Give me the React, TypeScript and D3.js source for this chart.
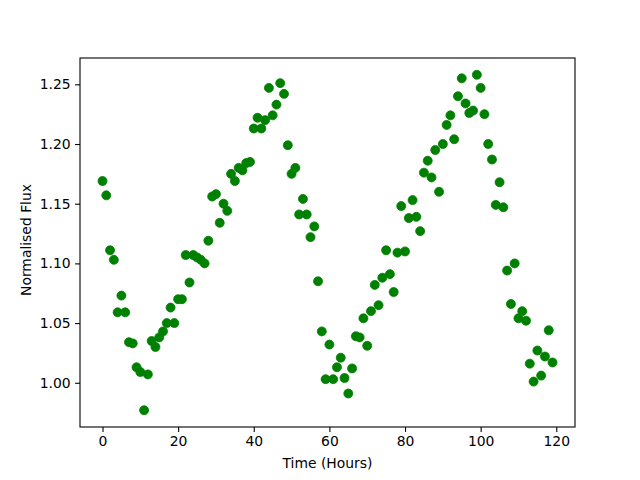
import React, { useEffect, useRef } from "react";
import * as d3 from "d3";

// time of each sample, hours
const hours = [
  0, 1, 2, 3, 4, 5, 6, 7, 8, 9, 10, 11, 12, 13, 14, 15, 16, 17, 18, 19,
  20, 21, 22, 23, 24, 25, 26, 27, 28, 29, 30, 31, 32, 33, 34, 35, 36, 37, 38, 39,
  40, 41, 42, 43, 44, 45, 46, 47, 48, 49, 50, 51, 52, 53, 54, 55, 56, 57, 58, 59,
  60, 61, 62, 63, 64, 65, 66, 67, 68, 69, 70, 71, 72, 73, 74, 75, 76, 77, 78, 79,
  80, 81, 82, 83, 84, 85, 86, 87, 88, 89, 90, 91, 92, 93, 94, 95, 96, 97, 98, 99,
  100, 101, 102, 103, 104, 105, 106, 107, 108, 109, 110, 111, 112, 113, 114, 115, 116, 117, 118, 119,
];

// normalised flux
const flux = [
  1.169, 1.157, 1.111, 1.103, 1.059, 1.073, 1.059, 1.034, 1.033, 1.013,
  1.009, 0.977, 1.007, 1.035, 1.030, 1.038, 1.043, 1.050, 1.063, 1.050,
  1.070, 1.070, 1.107, 1.084, 1.107, 1.105, 1.103, 1.100, 1.119, 1.156,
  1.158, 1.134, 1.150, 1.144, 1.175, 1.169, 1.180, 1.178, 1.184, 1.185,
  1.213, 1.222, 1.213, 1.220, 1.247, 1.224, 1.233, 1.251, 1.242, 1.199,
  1.175, 1.180, 1.141, 1.154, 1.141, 1.122, 1.131, 1.085, 1.043, 1.003,
  1.032, 1.003, 1.013, 1.021, 1.004, 0.991, 1.012, 1.039, 1.038, 1.054,
  1.031, 1.060, 1.082, 1.065, 1.088, 1.111, 1.091, 1.076, 1.109, 1.148,
  1.110, 1.138, 1.153, 1.139, 1.127, 1.176, 1.186, 1.172, 1.195, 1.160,
  1.200, 1.216, 1.224, 1.204, 1.240, 1.255, 1.234, 1.226, 1.228, 1.258,
  1.247, 1.225, 1.200, 1.187, 1.149, 1.168, 1.147, 1.094, 1.066, 1.100,
  1.054, 1.060, 1.052, 1.016, 1.001, 1.027, 1.006, 1.022, 1.044, 1.017,
];

const xTicks = [0, 20, 40, 60, 80, 100, 120];
const yTicks = [1.0, 1.05, 1.1, 1.15, 1.2, 1.25];

const W = 640;
const H = 480;
const margin = { left: 80, right: 65, top: 58, bottom: 53 };

export default function App() {
  const ref = useRef<SVGSVGElement | null>(null);

  useEffect(() => {
    const svg = d3.select(ref.current);
    svg.selectAll("*").remove();

    const iw = W - margin.left - margin.right;
    const ih = H - margin.top - margin.bottom;

    // matplotlib style 5% padding on both axes
    const xExt = d3.extent(hours) as [number, number];
    const yExt = d3.extent(flux) as [number, number];
    const xPad = (xExt[1] - xExt[0]) * 0.05;
    const yPad = (yExt[1] - yExt[0]) * 0.05;

    const x = d3.scaleLinear()
      .domain([xExt[0] - xPad, xExt[1] + xPad])
      .range([0, iw]);
    const y = d3.scaleLinear()
      .domain([yExt[0] - yPad, yExt[1] + yPad])
      .range([ih, 0]);

    const g = svg.append("g")
      .attr("transform", `translate(${margin.left},${margin.top})`);

    g.selectAll("circle")
      .data(hours)
      .enter()
      .append("circle")
      .attr("cx", (d) => x(d))
      .attr("cy", (d, i) => y(flux[i]))
      .attr("r", 4.5)
      .attr("fill", "#008000")
      .attr("stroke", "#008000")
      .attr("stroke-width", 0.8);

    const xAxis = d3.axisBottom(x)
      .tickValues(xTicks)
      .tickSize(4.9)
      .tickPadding(4.5)
      .tickFormat(d3.format("d"));
    const yAxis = d3.axisLeft(y)
      .tickValues(yTicks)
      .tickSize(4.9)
      .tickPadding(4.5)
      .tickFormat(d3.format(".2f"));

    const gx = g.append("g")
      .attr("transform", `translate(0,${ih})`)
      .call(xAxis);
    const gy = g.append("g").call(yAxis);

    [gx, gy].forEach((ax) => {
      ax.select(".domain").remove();
      ax.selectAll("line").attr("stroke", "#000").attr("stroke-width", 1.1);
      ax.selectAll("text")
        .attr("fill", "#000")
        .style("font-family", "DejaVu Sans")
        .style("font-size", "13.9px");
    });

    g.append("rect")
      .attr("width", iw)
      .attr("height", ih)
      .attr("fill", "none")
      .attr("stroke", "#000")
      .attr("stroke-width", 1.1);

    svg.append("text")
      .attr("x", margin.left + iw / 2)
      .attr("y", 468)
      .attr("text-anchor", "middle")
      .style("font-family", "DejaVu Sans")
      .style("font-size", "13.9px")
      .text("Time (Hours)");

    svg.append("text")
      .attr("transform", `translate(31,240) rotate(-90)`)
      .attr("text-anchor", "middle")
      .style("font-family", "DejaVu Sans")
      .style("font-size", "13.9px")
      .text("Normalised Flux");
  }, []);

  return (
    <svg
      ref={ref}
      width={W}
      height={H}
      style={{ position: "absolute", left: 0, top: 0, background: "#fff" }}
    />
  );
}
